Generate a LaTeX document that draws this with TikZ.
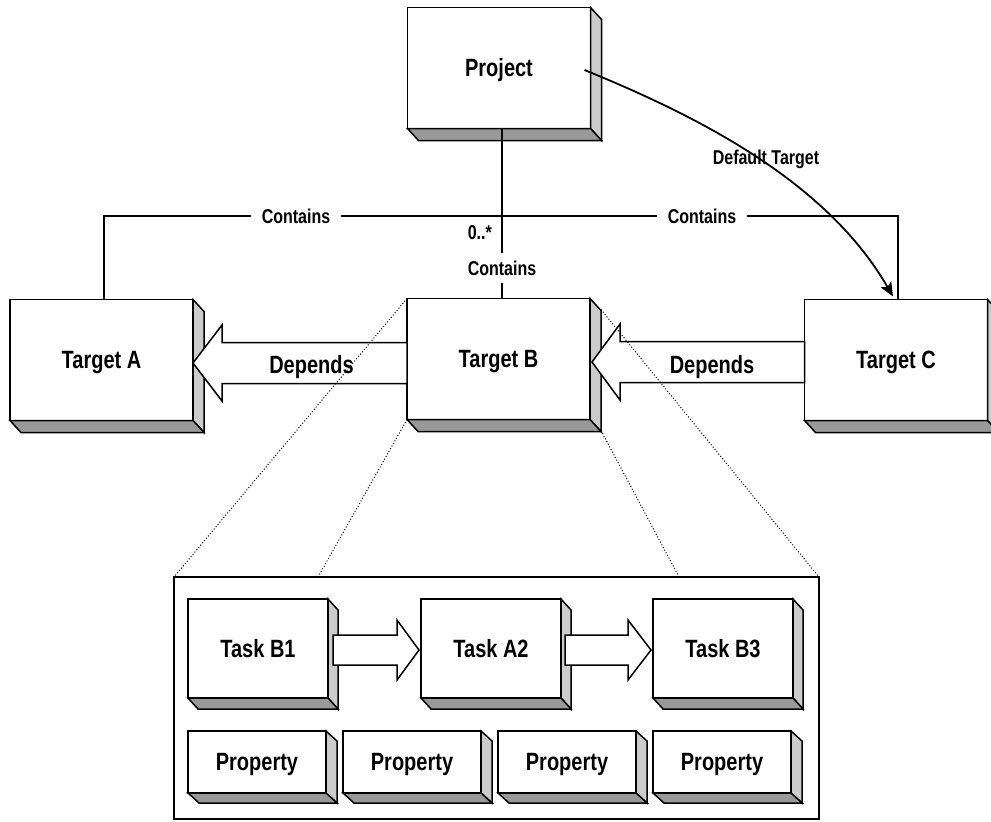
\documentclass[tikz,border=0pt]{standalone}
\usepackage{fontspec}
\newfontfamily\lab{Liberation Sans}[FakeStretch=0.80]
\usetikzlibrary{calc,arrows.meta}
\definecolor{sidelight}{gray}{0.80}
\definecolor{sidedark}{gray}{0.60}

\tikzset{
  block/.style={draw, fill=white, line width=1.5pt, outer sep=0pt, inner sep=0pt,
    font=\lab\bfseries\fontsize{25}{27}\selectfont, text height=17.9pt, text depth=0pt},
  mainbox/.style={block, minimum width=183pt, minimum height=121pt},
  taskbox/.style={block, minimum width=140pt, minimum height=99pt},
  propbox/.style={block, minimum width=138pt, minimum height=62pt},
  face/.style={draw, line width=1.5pt, line join=miter},
  link/.style={draw, line width=1.8pt},
  label/.style={font=\lab\bfseries\fontsize{20}{22}\selectfont, inner sep=0pt},
  biglabel/.style={font=\lab\bfseries\fontsize{25}{27}\selectfont, inner sep=0pt},
  gap/.style={label, fill=white, inner xsep=11pt, inner ysep=8pt},
  guide/.style={dotted, line width=1pt},
  hollow/.style={draw, fill=white, line width=1.5pt, line join=miter},
}

% light right face and dark bottom face of a raised box
\newcommand\depthfaces[3]{%
  \filldraw[face, fill=sidelight] (#1.north east) -- ++(#2,#3)
    -- ($(#1.south east)+(#2,#3)$) -- (#1.south east) -- cycle;
  \filldraw[face, fill=sidedark] (#1.south west) -- ++(#2,#3)
    -- ($(#1.south east)+(#2,#3)$) -- (#1.south east) -- cycle;}

\begin{document}
\begin{tikzpicture}[x=1pt, y=-1pt]
\useasboundingbox (0,0) rectangle (991,822);

% detail frame
\node[draw, line width=1.3pt, minimum width=645pt, minimum height=242pt,
      inner sep=0pt, outer sep=0pt] (detail) at (496.5,698) {};

% main boxes
\node[mainbox] (proj) at (499,68) {Project};
\depthfaces{proj}{11}{12}
\node[mainbox] (ta) at (101.5,360) {Target A};
\depthfaces{ta}{11}{12}
\node[mainbox] (tb) at (498.5,359) {Target B};
\depthfaces{tb}{11}{12}
\node[mainbox] (tc) at (896,360) {Target C};
\depthfaces{tc}{11}{12}

% tasks
\node[taskbox] (b1) at (258,648.5) {Task B1};
\depthfaces{b1}{10}{11}
\node[taskbox] (a2) at (491,648.5) {Task A2};
\depthfaces{a2}{10}{11}
\node[taskbox] (b3) at (723,648.5) {Task B3};
\depthfaces{b3}{10}{11}

% properties
\node[propbox] (p1) at (257,762) {Property};
\depthfaces{p1}{11}{10}
\node[propbox] (p2) at (412,762) {Property};
\depthfaces{p2}{11}{10}
\node[propbox] (p3) at (567,762) {Property};
\depthfaces{p3}{11}{10}
\node[propbox] (p4) at (722,762) {Property};
\depthfaces{p4}{11}{10}

% "Depends" block arrows
\coordinate (tipa) at ($(ta.east)+(0,3)$);
\draw[hollow] (tipa) -- ++(29,-38) -- ++(0,17.5)
  -- ($(tipa -| tb.west)+(0,-20.5)$) -- ($(tipa -| tb.west)+(0,20.5)$)
  -- ($(tipa)+(29,20.5)$) -- ++(0,17.5) -- cycle;
\coordinate (tipb) at ($(tb.east)+(2,3)$);
\draw[hollow] (tipb) -- ++(28,-38) -- ++(0,17.5)
  -- ($(tipb -| tc.west)+(0,-20.5)$) -- ($(tipb -| tc.west)+(0,20.5)$)
  -- ($(tipb)+(28,20.5)$) -- ++(0,17.5) -- cycle;

% task sequence arrows
\coordinate (tip2) at ($(a2.west)+(-2,1.5)$);
\draw[hollow] (tip2) -- ++(-22,-30) -- ++(0,15)
  -- ($(tip2 -| b1.east)+(5,-15)$) -- ($(tip2 -| b1.east)+(5,15)$)
  -- ($(tip2)+(-22,15)$) -- ++(0,15) -- cycle;
\coordinate (tip3) at ($(b3.west)+(-2,1.5)$);
\draw[hollow] (tip3) -- ++(-23,-30) -- ++(0,15)
  -- ($(tip3 -| a2.east)+(4,-15)$) -- ($(tip3 -| a2.east)+(4,15)$)
  -- ($(tip3)+(-23,15)$) -- ++(0,15) -- cycle;

% containment lines
\coordinate (ja) at (104,216);
\coordinate (jb) at (502,216);
\coordinate (jc) at (898,216);
\draw[link] (ta.north -| ja) -- (ja) -- (jc) -- (tc.north -| jc);
\draw[link] (proj.south -| jb) -- (tb.north -| jb);

% default target
\draw[link, -{Stealth[length=14pt,width=12pt,inset=3pt]}]
  ($(proj.east)+(-6,2)$) .. controls (705,119) and (828,184) .. ($(tc.north)+(-3,-3)$);

% zoom guides from Target B to the detail frame
\coordinate (d2) at (318,577);
\coordinate (d3) at (679,577);
\draw[guide] (tb.north west) -- (detail.north west);
\draw[guide] (tb.south west) -- (d2);
\draw[guide] ($(tb.north east)+(11,11)$) -- (detail.north east);
\draw[guide] ($(tb.south east)+(11,11)$) -- (d3);

% labels
\node[gap] (lca) at (296,216) {Contains};
\node[gap] (lcc) at (702,216) {Contains};
\node[gap] (lcb) at (502,268) {Contains};
\node[label, anchor=base east] (mult) at (492,239) {0..*};
\node[label, anchor=base] (ldef) at (766,164) {Default Target};
\node[biglabel, anchor=base] (lda) at (311.5,373) {Depends};
\node[biglabel, anchor=base] (ldc) at (712,373) {Depends};
\end{tikzpicture}
\end{document}
